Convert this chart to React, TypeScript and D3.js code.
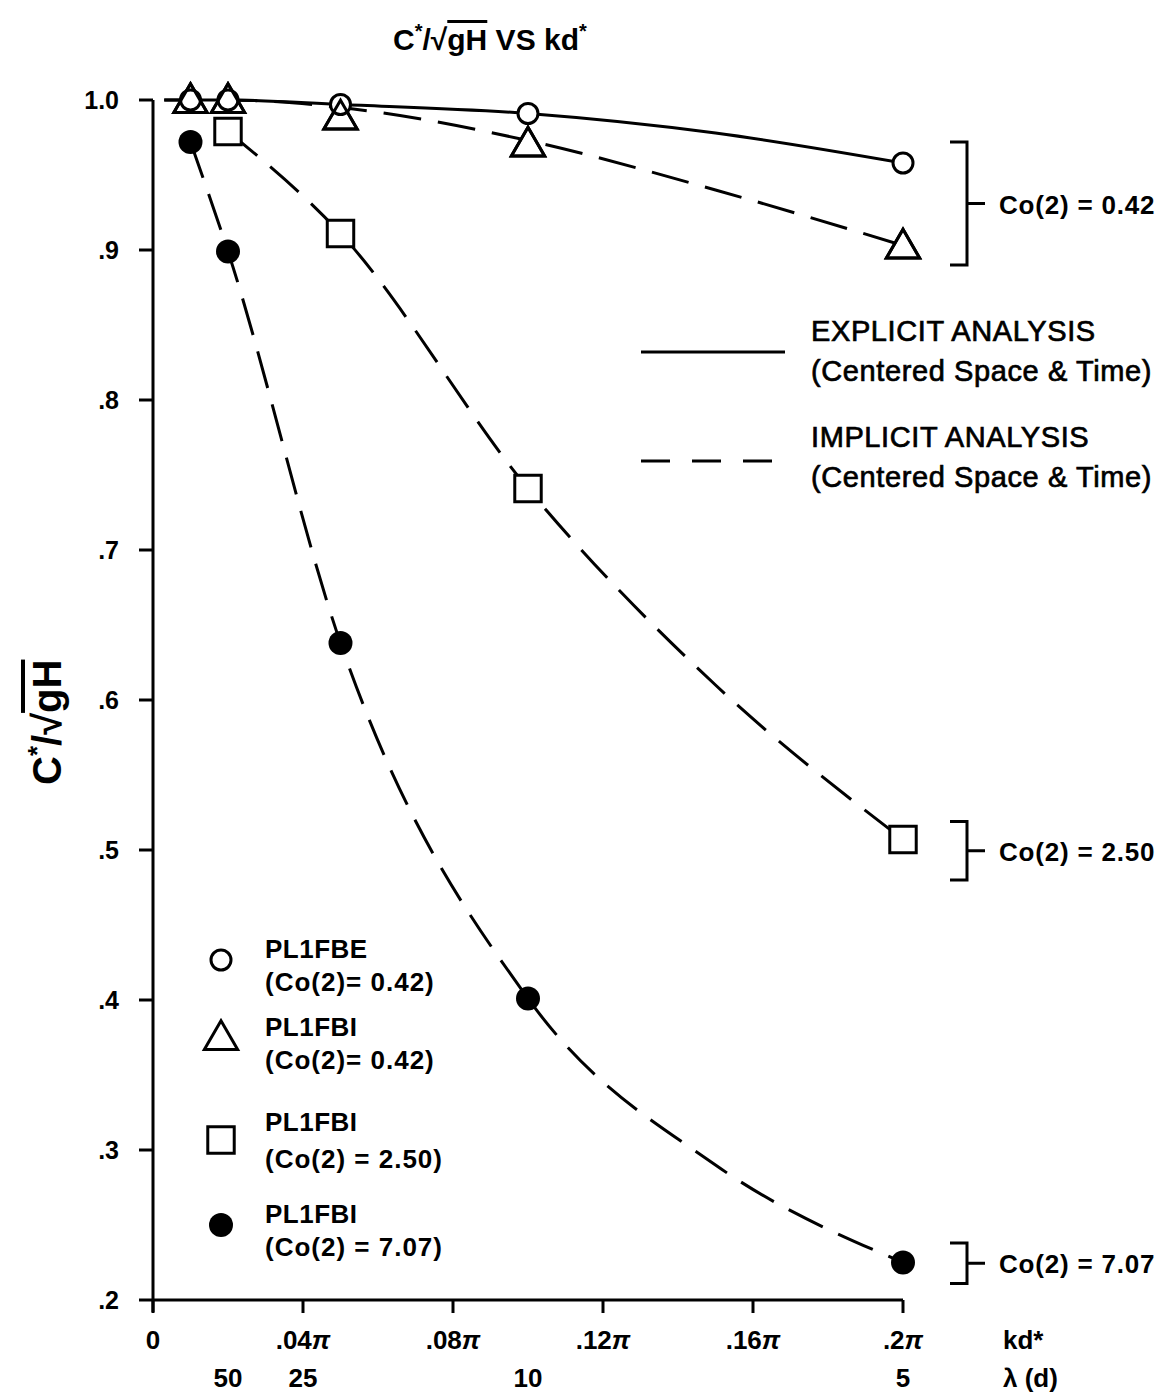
import React, { useEffect, useRef } from 'react';
import * as d3 from 'd3';

// kd* values are in units of pi
const kdPoints = [0.01, 0.02, 0.05, 0.1, 0.2];

// markers
const explicitLow = [1.0, 1.0, 0.997, 0.991, 0.958];   // PL1FBE Co(2)=0.42
const implicitLow = [1.0, 1.0, 0.989, 0.971, 0.903];   // PL1FBI Co(2)=0.42
const implicitMid = [null, 0.979, 0.911, 0.741, 0.507]; // PL1FBI Co(2)=2.50
const implicitHigh = [0.972, 0.899, 0.638, 0.401, 0.225]; // PL1FBI Co(2)=7.07

// analysis curves
const explicitCurveKd = [0.003, 0.01, 0.02, 0.05, 0.1, 0.15, 0.2];
const explicitCurve = [1.0, 1.0, 1.0, 0.997, 0.991, 0.978, 0.958];
const implicitLowKd = [0.003, 0.01, 0.02, 0.05, 0.1, 0.15, 0.2];
const implicitLowCurve = [1.0, 1.0, 1.0, 0.995, 0.973, 0.94, 0.903];
const implicitMidKd = [0.02, 0.05, 0.1, 0.15, 0.2];
const implicitMidCurve = [0.979, 0.911, 0.741, 0.61, 0.507];
const implicitHighKd = [0.01, 0.02, 0.05, 0.1, 0.15, 0.2];
const implicitHighCurve = [0.972, 0.899, 0.638, 0.401, 0.29, 0.225];

const xTicks = [0, 0.04, 0.08, 0.12, 0.16, 0.2];
const xTickLabels = ['0', '.04', '.08', '.12', '.16', '.2'];
const yTicks = [1.0, 0.9, 0.8, 0.7, 0.6, 0.5, 0.4, 0.3, 0.2];
const yTickLabels = ['1.0', '.9', '.8', '.7', '.6', '.5', '.4', '.3', '.2'];
const lambdaValues = [50, 25, 10, 5];

const legendEntries = [
  { shape: 'circle', name: 'PL1FBE', co: '(Co(2)= 0.42)' },
  { shape: 'triangle', name: 'PL1FBI', co: '(Co(2)= 0.42)' },
  { shape: 'square', name: 'PL1FBI', co: '(Co(2) = 2.50)' },
  { shape: 'filled', name: 'PL1FBI', co: '(Co(2) = 7.07)' },
];

const brackets = [
  { top: 0.972, bottom: 0.89, label: 'Co(2) = 0.42' },
  { top: 0.519, bottom: 0.48, label: 'Co(2) = 2.50' },
  { top: 0.238, bottom: 0.211, label: 'Co(2) = 7.07' },
];

const FONT = '"Liberation Sans", Arial, sans-serif';

const App = () => {
  const ref = useRef<SVGSVGElement>(null);

  useEffect(() => {
    const svg = d3.select(ref.current);
    svg.selectAll('*').remove();

    const x = d3.scaleLinear().domain([0, 0.2]).range([153, 903]);
    const y = d3.scaleLinear().domain([0.2, 1.0]).range([1300, 100]);

    const g = svg.append('g').attr('font-family', FONT).attr('font-weight', 700).attr('fill', '#000');

    // title
    const title = g.append('text').attr('x', 393).attr('y', 50).attr('font-size', 30);
    title.append('tspan').text('C');
    title.append('tspan').attr('dy', -12).attr('font-size', 20).text('*');
    title.append('tspan').attr('dy', 12).text('/√');
    title.append('tspan').style('text-decoration', 'overline').text('gH');
    title.append('tspan').text(' VS kd');
    title.append('tspan').attr('dy', -12).attr('font-size', 20).text('*');

    // y label
    const ylab = g.append('text')
      .attr('transform', 'translate(61,785) rotate(-90)')
      .attr('font-size', 40);
    ylab.append('tspan').text('C');
    ylab.append('tspan').attr('dy', -15).attr('font-size', 26).text('*');
    ylab.append('tspan').attr('dy', 15).text('/√');
    ylab.append('tspan').style('text-decoration', 'overline').text('gH');

    // axes
    g.append('line').attr('x1', x(0)).attr('x2', x(0)).attr('y1', y(1.0)).attr('y2', y(0.2) + 12)
      .attr('stroke', '#000').attr('stroke-width', 3);
    g.append('line').attr('x1', x(0)).attr('x2', x(0.2)).attr('y1', y(0.2)).attr('y2', y(0.2))
      .attr('stroke', '#000').attr('stroke-width', 3);

    yTicks.forEach((t, i) => {
      g.append('line').attr('x1', x(0) - 14).attr('x2', x(0)).attr('y1', y(t)).attr('y2', y(t))
        .attr('stroke', '#000').attr('stroke-width', 3);
      g.append('text').attr('x', 119).attr('y', y(t) + 9).attr('text-anchor', 'end')
        .attr('font-size', 25).text(yTickLabels[i]);
    });

    xTicks.forEach((t, i) => {
      g.append('line').attr('x1', x(t)).attr('x2', x(t)).attr('y1', y(0.2)).attr('y2', y(0.2) + 13)
        .attr('stroke', '#000').attr('stroke-width', 3);
      const lbl = g.append('text').attr('x', x(t)).attr('y', 1349).attr('text-anchor', 'middle')
        .attr('font-size', 26);
      lbl.append('tspan').text(xTickLabels[i]);
      if (t > 0) lbl.append('tspan').attr('font-style', 'italic').text('π');
    });
    g.append('text').attr('x', 1003).attr('y', 1349).attr('font-size', 26).text('kd*');

    lambdaValues.forEach((l) => {
      g.append('text').attr('x', x(1 / l)).attr('y', 1387).attr('text-anchor', 'middle')
        .attr('font-size', 26).text(String(l));
    });
    g.append('text').attr('x', 1003).attr('y', 1387).attr('font-size', 26).text('λ (d)');

    // curves
    const line = d3.line<[number, number]>()
      .x((d) => x(d[0]))
      .y((d) => y(d[1]))
      .curve(d3.curveMonotoneX);

    const curve = (kd: number[], vals: number[], dashed: boolean) => {
      g.append('path')
        .attr('d', line(kd.map((k, i) => [k, vals[i]] as [number, number])))
        .attr('fill', 'none').attr('stroke', '#000').attr('stroke-width', 3)
        .attr('stroke-dasharray', dashed ? '38,17' : null);
    };
    curve(implicitLowKd, implicitLowCurve, true);
    curve(implicitMidKd, implicitMidCurve, true);
    curve(implicitHighKd, implicitHighCurve, true);
    curve(explicitCurveKd, explicitCurve, false);

    // markers
    const tri = d3.symbol().type(d3.symbolTriangle).size(480);
    const sq = d3.symbol().type(d3.symbolSquare).size(700);

    const drawMarker = (shape: string, cx: number, cy: number, layer: any) => {
      if (shape === 'circle') {
        layer.append('circle').attr('cx', cx).attr('cy', cy).attr('r', 10)
          .attr('fill', '#fff').attr('stroke', '#000').attr('stroke-width', 3);
      } else if (shape === 'triangle') {
        layer.append('path').attr('d', tri()).attr('transform', `translate(${cx},${cy})`)
          .attr('fill', '#fff').attr('stroke', '#000').attr('stroke-width', 3);
      } else if (shape === 'square') {
        layer.append('path').attr('d', sq()).attr('transform', `translate(${cx},${cy})`)
          .attr('fill', '#fff').attr('stroke', '#000').attr('stroke-width', 3);
      } else {
        layer.append('circle').attr('cx', cx).attr('cy', cy).attr('r', 12).attr('fill', '#000');
      }
    };

    kdPoints.forEach((k, i) => {
      drawMarker('triangle', x(k), y(implicitLow[i]) + 3, g);
    });
    kdPoints.forEach((k, i) => {
      drawMarker('circle', x(k), y(explicitLow[i]), g);
    });
    // triangle outlines on top of circles
    kdPoints.forEach((k, i) => {
      g.append('path').attr('d', tri()).attr('transform', `translate(${x(k)},${y(implicitLow[i]) + 3})`)
        .attr('fill', 'none').attr('stroke', '#000').attr('stroke-width', 3);
    });
    kdPoints.forEach((k, i) => {
      const v = implicitMid[i];
      if (v !== null) drawMarker('square', x(k), y(v), g);
    });
    kdPoints.forEach((k, i) => {
      drawMarker('filled', x(k), y(implicitHigh[i]), g);
    });

    // line legend
    g.append('line').attr('x1', 641).attr('x2', 785).attr('y1', 352).attr('y2', 352)
      .attr('stroke', '#000').attr('stroke-width', 3);
    g.append('line').attr('x1', 641).attr('x2', 785).attr('y1', 461).attr('y2', 461)
      .attr('stroke', '#000').attr('stroke-width', 3).attr('stroke-dasharray', '29,22');
    [['EXPLICIT ANALYSIS', 341], ['(Centered Space & Time)', 381], ['IMPLICIT ANALYSIS', 447], ['(Centered Space & Time)', 487]]
      .forEach(([t, yy]) => {
        g.append('text').attr('x', 811).attr('y', yy as number).attr('font-size', 29)
          .attr('letter-spacing', 0.6)
          .attr('font-weight', 400).attr('stroke', '#000').attr('stroke-width', 0.7).text(t as string);
      });

    // marker legend
    const legendY = [960, 1040, 1140, 1225];
    legendEntries.forEach((e, i) => {
      drawMarker(e.shape, 221, legendY[i], g);
      g.append('text').attr('x', 265).attr('y', legendY[i] - 2 + (i === 1 ? -2 : 0) + (i === 2 ? -7 : 0))
        .attr('font-size', 26).attr('letter-spacing', 0.5).text(e.name);
      g.append('text').attr('x', 265).attr('y', legendY[i] + 31 + (i === 1 ? -2 : 0) + (i === 2 ? -3 : 0))
        .attr('font-size', 26).attr('letter-spacing', 1).text(e.co);
    });

    // brackets
    brackets.forEach((b) => {
      const top = y(b.top);
      const bot = y(b.bottom);
      const mid = (top + bot) / 2;
      g.append('path')
        .attr('d', `M950,${top}H967V${bot}H950M967,${mid}H985`)
        .attr('fill', 'none').attr('stroke', '#000').attr('stroke-width', 3);
      g.append('text').attr('x', 999).attr('y', mid + 10).attr('font-size', 26)
        .attr('letter-spacing', 0.8).text(b.label);
    });
  }, []);

  return (
    <div style={{ position: 'absolute', left: 0, top: 0 }}>
      <svg ref={ref} width={1171} height={1394} style={{ display: 'block', background: '#fff' }} />
    </div>
  );
};

export default App;
